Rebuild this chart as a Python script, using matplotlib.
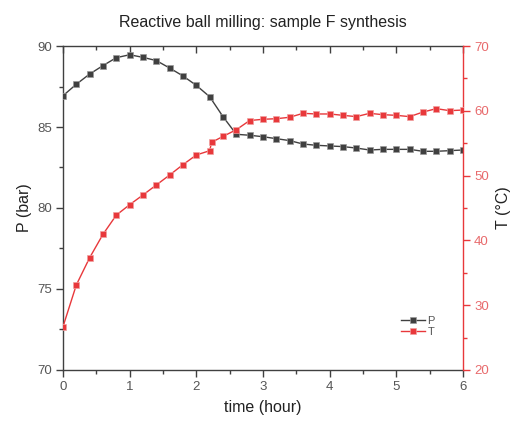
import matplotlib
matplotlib.use("Agg")
import matplotlib.pyplot as plt
from matplotlib.ticker import MultipleLocator

plt.rcParams['font.family'] = ['Liberation Sans', 'DejaVu Sans']

# data
time_p = [0.0, 0.2, 0.4, 0.6, 0.8, 1.0, 1.2, 1.4, 1.6, 1.8, 2.0, 2.2, 2.4, 2.6, 2.8,
          3.0, 3.2, 3.4, 3.6, 3.8, 4.0, 4.2, 4.4, 4.6, 4.8, 5.0, 5.2, 5.4, 5.6, 5.8, 6.0]
pressure = [86.93, 87.64, 88.27, 88.79, 89.28, 89.46, 89.30, 89.10, 88.64, 88.15, 87.57,
            86.87, 85.64, 84.55, 84.49, 84.40, 84.28, 84.16, 83.95, 83.87, 83.83, 83.79,
            83.70, 83.58, 83.62, 83.62, 83.62, 83.50, 83.50, 83.54, 83.58]
time_t = [0.0, 0.2, 0.4, 0.6, 0.8, 1.0, 1.2, 1.4, 1.6, 1.8, 2.0, 2.2, 2.23, 2.4, 2.6, 2.8,
          3.0, 3.2, 3.4, 3.6, 3.8, 4.0, 4.2, 4.4, 4.6, 4.8, 5.0, 5.2, 5.4, 5.6, 5.8, 6.0]
temperature = [26.68, 33.12, 37.33, 40.94, 43.90, 45.51, 47.01, 48.55, 50.09, 51.69, 53.18,
               53.84, 55.14, 56.05, 57.08, 58.50, 58.69, 58.78, 59.00, 59.61, 59.51, 59.51,
               59.30, 59.10, 59.61, 59.40, 59.30, 59.10, 59.81, 60.33, 60.02, 60.12]

p_color = '#404040'
t_color = '#e8383b'
gray_txt = '#555555'

fig = plt.figure(figsize=(5.15, 4.26), dpi=100)
ax = fig.add_axes([0.1223, 0.1315, 0.7767, 0.7605])
ax2 = ax.twinx()

lp, = ax.plot(time_p, pressure, color=p_color, lw=1.0, marker='s', ms=5.0,
              mfc=p_color, mec='#9a9a9a', mew=0.5, label='P', zorder=3)
lt, = ax2.plot(time_t, temperature, color=t_color, lw=1.0, marker='s', ms=5.0,
               mfc=t_color, mec='#f0a0a0', mew=0.5, label='T', zorder=3)

ax.set_xlim(0, 6)
ax.set_ylim(70, 90)
ax2.set_ylim(20, 70)

ax.xaxis.set_major_locator(MultipleLocator(1))
ax.xaxis.set_minor_locator(MultipleLocator(0.5))
ax.yaxis.set_major_locator(MultipleLocator(5))
ax.yaxis.set_minor_locator(MultipleLocator(2.5))
ax2.yaxis.set_major_locator(MultipleLocator(10))
ax2.yaxis.set_minor_locator(MultipleLocator(5))

for s in ['left', 'bottom', 'top']:
    ax.spines[s].set_color(p_color)
    ax.spines[s].set_linewidth(1.0)
ax.spines['right'].set_visible(False)
for s in ['left', 'bottom', 'top']:
    ax2.spines[s].set_visible(False)
ax2.spines['right'].set_color(t_color)
ax2.spines['right'].set_linewidth(1.0)

ax.tick_params(axis='both', which='major', direction='out', length=5, width=1,
               color=p_color, labelsize=9.5, labelcolor=gray_txt, pad=3)
ax.tick_params(axis='both', which='minor', direction='out', length=3, width=1, color=p_color)
ax.tick_params(axis='x', which='both', top=True)
ax2.tick_params(axis='y', which='major', direction='out', length=5, width=1,
                color=t_color, labelsize=9.5, labelcolor='#e86a6c', pad=3)
ax2.tick_params(axis='y', which='minor', direction='out', length=3, width=1, color=t_color)

# top ticks pointing inward
for t in ax.xaxis.get_major_ticks() + ax.xaxis.get_minor_ticks():
    t.tick2line.set_marker(3)  # TICKDOWN

ax.set_xlabel('time (hour)', fontsize=11.5, color='#222222', labelpad=5)
ax.set_ylabel('P (bar)', fontsize=11.5, color='#222222', labelpad=4)
ax2.set_ylabel('T (°C)', fontsize=11.5, color='#222222', rotation=90, labelpad=5)
ax.set_title('Reactive ball milling: sample F synthesis', fontsize=11.5,
             color='#222222', pad=14)

leg = ax.legend([lp, lt], ['P', 'T'], loc='lower right', bbox_to_anchor=(0.955, 0.07),
                frameon=False, fontsize=8, handlelength=2.2, handletextpad=0.2,
                labelspacing=0.15, labelcolor=gray_txt)

fig.savefig('out.png', dpi=100)
